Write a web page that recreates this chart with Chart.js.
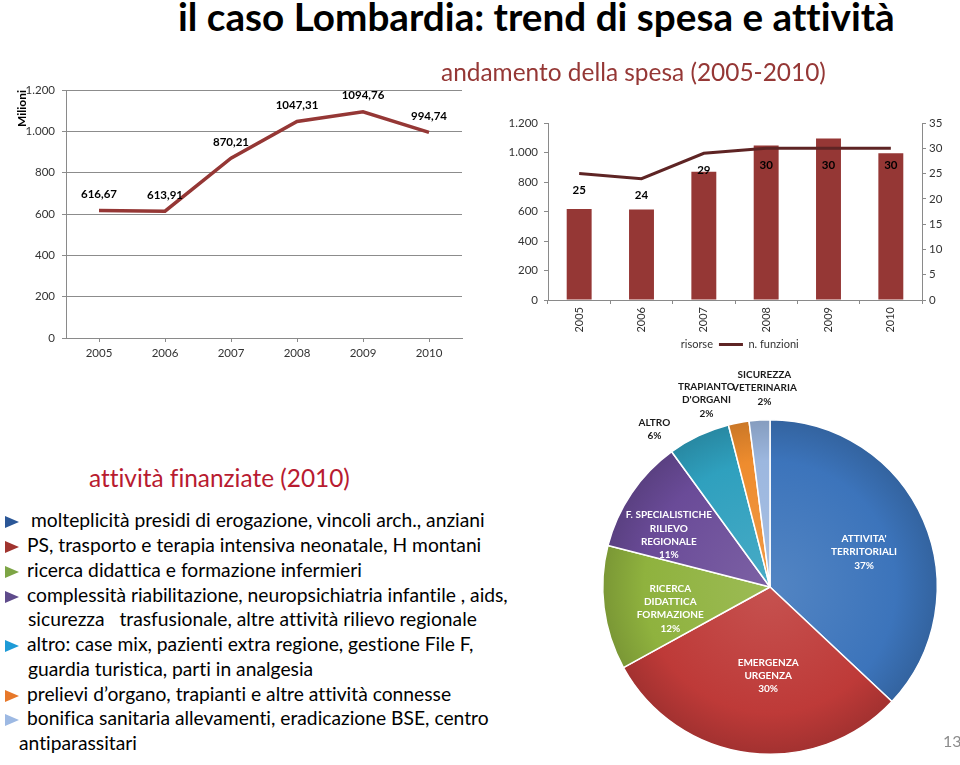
<!DOCTYPE html>
<html><head><meta charset="utf-8">
<script src="https://cdn.jsdelivr.net/npm/chart.js@4.4.0/dist/chart.umd.min.js"></script>
<style>
html,body{margin:0;padding:0;background:#fff;}
#page{position:relative;width:960px;height:765px;overflow:hidden;font-family:Lato,'Open Sans',sans-serif;font-variant-ligatures:none;font-feature-settings:"liga" 0,"clig" 0;}
canvas{position:absolute;}
.t{position:absolute;white-space:nowrap;line-height:1;}
.tri{position:absolute;width:0;height:0;border-top:6px solid transparent;border-bottom:6px solid transparent;border-left:14px solid #000;}
</style></head><body><div id="page">
<canvas id="c1" width="470" height="310" style="left:0;top:60px"></canvas>
<canvas id="c2" width="470" height="255" style="left:490px;top:105px"></canvas>
<canvas id="c3" width="360" height="400" style="left:590px;top:365px"></canvas>
<div class="t" id="title" style="left:178px;font-weight:700;font-size:34px;color:#000">il caso Lombardia: trend di spesa e attività</div>
<div class="t" id="sub1" style="left:441px;font-size:22px;color:#953735">andamento della spesa (2005-2010)</div>
<div class="t" id="sub2" style="left:89px;font-size:24px;color:#B81B30">attività finanziate (2010)</div>
<div class="t" id="pg" style="left:943px;font-size:16px;color:#8c8c8c">13</div>
</div>
<script>
// ---------- data ----------
const years = ['2005', '2006', '2007', '2008', '2009', '2010'];
const spesaMilioni = [616.67, 613.91, 870.21, 1047.31, 1094.76, 994.74];
const risorse = [616.67, 613.91, 870.21, 1047.31, 1094.76, 994.74];
const nFunzioni = [25, 24, 29, 30, 30, 30];
const pieLabels = [["ATTIVITA'", "TERRITORIALI"], ["EMERGENZA", "URGENZA"], ["RICERCA", "DIDATTICA", "FORMAZIONE"], ["F. SPECIALISTICHE", "RILIEVO", "REGIONALE"], ["ALTRO"], ["TRAPIANTO", "D'ORGANI"], ["SICUREZZA", "VETERINARIA"]];
const pieShares = [37, 30, 12, 11, 6, 2, 2];
// ---------- styles ----------
const pieColors = ['#3C74BB', '#BE3A38', '#8FB23E', '#6A4B98', '#2FA0BE', '#EE8C2E', '#9CB7DF'];
const pieLabelPlace = [{r:0.6,da:3},{r:0.53,da:-6},{r:0.61,da:-5},{r:0.68,da:-7},{r:1.17,da:-11},{r:1.18,da:-8},{r:1.19,da:2}];

const FONT = 'Lato';
const dot = v => String(v).replace(/\B(?=(\d{3})+(?!\d))/g, '.');
const comma = v => v.toFixed(2).replace('.', ',');

function fitW(el, target){
  const w = el.getBoundingClientRect().width;
  const fs = parseFloat(getComputedStyle(el).fontSize);
  const n = fs * target / w;
  el.style.fontSize = n + 'px';
  return n;
}
function placeY(el, yc){
  const fs = parseFloat(el.style.fontSize);
  el.style.top = (yc - 0.634 * fs) + 'px';
}
placeY(document.getElementById('pg'), 743);
fitW(document.getElementById('title'), 717); placeY(document.getElementById('title'), 21.5);
fitW(document.getElementById('sub1'), 385); placeY(document.getElementById('sub1'), 75);
fitW(document.getElementById('sub2'), 261); placeY(document.getElementById('sub2'), 481);

// bullets
const bulletLines = [
  {c:'#2B5797', x:31, y:522, t:'molteplicità presidi di erogazione, vincoli arch., anziani'},
  {c:'#A0342F', x:27, y:547, t:'PS, trasporto e terapia intensiva neonatale, H montani'},
  {c:'#7DA545', x:27, y:572, t:'ricerca didattica e formazione infermieri'},
  {c:'#5F4B8B', x:27, y:597, t:'complessità riabilitazione, neuropsichiatria infantile , aids,'},
  {c:null, x:28, y:621, t:'sicurezza \u00a0 trasfusionale, altre attività rilievo regionale'},
  {c:'#1E9BD7', x:27, y:646, t:'altro: case mix, pazienti extra regione, gestione File F,'},
  {c:null, x:28, y:671, t:'guardia turistica, parti in analgesia'},
  {c:'#E7782A', x:27, y:696, t:'prelievi d’organo, trapianti e altre attività connesse'},
  {c:'#9DB9E3', x:27, y:720, t:'bonifica sanitaria allevamenti, eradicazione BSE, centro'},
  {c:null, x:19, y:745, t:'antiparassitari'}
];
let bfs = 18;
bulletLines.forEach((b, i) => {
  const d = document.createElement('div');
  d.className = 't';
  d.style.left = b.x + 'px';
  d.style.fontSize = bfs + 'px';
  d.style.color = '#000';
  d.textContent = b.t;
  document.getElementById('page').appendChild(d);
  if (i === 0) { bfs = fitW(d, 454); }
  d.style.fontSize = bfs + 'px';
  placeY(d, b.y);
  if (b.c) {
    const tr = document.createElement('div');
    tr.className = 'tri';
    tr.style.borderLeftColor = b.c;
    tr.style.left = '5px';
    tr.style.top = (b.y - 6) + 'px';
    document.getElementById('page').appendChild(tr);
  }
});

// ---------- chart 1 ----------
const labels1 = {
  id: 'labels1',
  afterDatasetsDraw(chart){
    const ctx = chart.ctx;
    const meta = chart.getDatasetMeta(0);
    ctx.save();
    ctx.font = 'bold 11.5px ' + FONT;
    ctx.fillStyle = '#000';
    ctx.textAlign = 'center';
    ctx.textBaseline = 'middle';
    meta.data.forEach((p, i) => {
      ctx.fillText(comma(chart.data.datasets[0].data[i]), p.x, p.y - 16);
    });
    ctx.restore();
  }
};
new Chart(document.getElementById('c1'), {
  type: 'line',
  data: { labels: years, datasets: [{ data: spesaMilioni, borderColor: '#953735', borderWidth: 3.5, pointRadius: 0, tension: 0, fill: false }] },
  options: {
    responsive: false, animation: false,
    layout: { padding: { top: 30, right: 8, left: 0, bottom: 0 } },
    plugins: { legend: { display: false }, tooltip: { enabled: false } },
    scales: {
      x: {
        offset: true,
        grid: { drawOnChartArea: false, drawTicks: true, tickLength: 4, color: '#8a8a8a' },
        border: { color: '#8a8a8a' },
        ticks: { color: '#333', font: { family: FONT, size: 11.5 }, padding: 4, maxRotation: 0 },
        afterFit: s => { s.height = 32; }
      },
      y: {
        min: 0, max: 1200,
        ticks: { stepSize: 200, callback: v => dot(v), color: '#333', font: { family: FONT, size: 11.5 }, padding: 7 },
        grid: { color: '#8c8c8c', tickLength: 4 },
        border: { color: '#8a8a8a' },
        title: { display: true, text: 'Milioni', align: 'end', color: '#000', font: { family: FONT, size: 12, weight: 'bold' }, padding: { top: 15, bottom: 0 } },
        afterFit: s => { s.width = 66; }
      }
    }
  },
  plugins: [labels1]
});

// ---------- chart 2 ----------
const labels2 = {
  id: 'labels2',
  afterDatasetsDraw(chart){
    const ctx = chart.ctx;
    const meta = chart.getDatasetMeta(1);
    ctx.save();
    ctx.font = 'bold 11.5px ' + FONT;
    ctx.fillStyle = '#000';
    ctx.textAlign = 'center';
    ctx.textBaseline = 'middle';
    meta.data.forEach((p, i) => {
      ctx.fillText(String(chart.data.datasets[1].data[i]), p.x, p.y + 17);
    });
    ctx.restore();
  }
};
new Chart(document.getElementById('c2'), {
  type: 'bar',
  data: {
    labels: years,
    datasets: [
      { label: 'risorse', data: risorse, backgroundColor: '#953735', yAxisID: 'y', order: 2, categoryPercentage: 1, barPercentage: 0.4 },
      { label: 'n. funzioni', type: 'line', data: nFunzioni, borderColor: '#5E2424', borderWidth: 3, pointRadius: 0, tension: 0, yAxisID: 'y1', order: 1 }
    ]
  },
  options: {
    responsive: false, animation: false,
    layout: { padding: { top: 18, right: 0, left: 0, bottom: 0 } },
    plugins: {
      tooltip: { enabled: false },
      legend: {
        position: 'bottom',
        labels: {
          boxWidth: 24, boxHeight: 3, padding: 6, color: '#333', font: { family: FONT, size: 11 },
          generateLabels: () => [
            { text: 'risorse', fillStyle: 'rgba(0,0,0,0)', strokeStyle: 'rgba(0,0,0,0)', lineWidth: 0, datasetIndex: 0, fontColor: '#333' },
            { text: 'n. funzioni', fillStyle: '#5E2424', strokeStyle: '#5E2424', lineWidth: 0, datasetIndex: 1, fontColor: '#333' }
          ]
        }
      }
    },
    scales: {
      x: {
        grid: { drawOnChartArea: false, tickLength: 4, color: '#8a8a8a' },
        border: { color: '#8a8a8a' },
        ticks: { color: '#333', font: { family: FONT, size: 11 }, padding: 3, minRotation: 90, maxRotation: 90 },
        afterFit: s => { s.height = 33; }
      },
      y: {
        position: 'left', min: 0, max: 1200,
        ticks: { stepSize: 200, callback: v => dot(v), color: '#333', font: { family: FONT, size: 11.5 }, padding: 6 },
        grid: { drawOnChartArea: false, tickLength: 4, color: '#8a8a8a' },
        border: { color: '#8a8a8a' },
        afterFit: s => { s.width = 58; }
      },
      y1: {
        position: 'right', min: 0, max: 35,
        ticks: { stepSize: 5, color: '#333', font: { family: FONT, size: 11.5 }, padding: 3 },
        grid: { drawOnChartArea: false, tickLength: 4, color: '#8a8a8a' },
        border: { color: '#8a8a8a' },
        afterFit: s => { s.width = 38; }
      }
    }
  },
  plugins: [labels2]
});

// ---------- chart 3 ----------
function shade(hex, f){
  const n = parseInt(hex.slice(1), 16);
  let r = n >> 16, g = (n >> 8) & 255, b = n & 255;
  const t = f < 0 ? 0 : 255, p = Math.abs(f);
  r = Math.round(r + (t - r) * p); g = Math.round(g + (t - g) * p); b = Math.round(b + (t - b) * p);
  return 'rgb(' + r + ',' + g + ',' + b + ')';
}
function sliceFill(ctx){
  const base = pieColors[ctx.dataIndex];
  const ca = ctx.chart.chartArea;
  if (!ca) return base;
  const cx = (ca.left + ca.right) / 2, cy = (ca.top + ca.bottom) / 2;
  const R = Math.min(ca.width, ca.height) / 2;
  const g = ctx.chart.ctx.createRadialGradient(cx, cy, 0, cx, cy, R);
  g.addColorStop(0, shade(base, 0.12));
  g.addColorStop(0.75, base);
  g.addColorStop(1, shade(base, -0.15));
  return g;
}
const labels3 = {
  id: 'labels3',
  afterDatasetsDraw(chart){
    const ctx = chart.ctx;
    const meta = chart.getDatasetMeta(0);
    const data = chart.data.datasets[0].data;
    const total = data.reduce((a, b) => a + b, 0);
    ctx.save();
    ctx.font = 'bold 10px ' + FONT;
    ctx.textAlign = 'center';
    ctx.textBaseline = 'middle';
    meta.data.forEach((arc, i) => {
      const { x, y, startAngle, endAngle, outerRadius } = arc.getProps(['x', 'y', 'startAngle', 'endAngle', 'outerRadius'], true);
      const pl = pieLabelPlace[i];
      const mid = (startAngle + endAngle) / 2 + pl.da * Math.PI / 180;
      const px = x + Math.cos(mid) * outerRadius * pl.r;
      const py = y + Math.sin(mid) * outerRadius * pl.r;
      const lines = chart.data.labels[i].concat([Math.round(data[i] / total * 100) + '%']);
      ctx.fillStyle = pl.r > 1 ? '#1a1a1a' : '#fff';
      const lh = 13.3;
      lines.forEach((l, k) => ctx.fillText(l, px, py + (k - (lines.length - 1) / 2) * lh));
    });
    ctx.restore();
  }
};
new Chart(document.getElementById('c3'), {
  type: 'pie',
  data: { labels: pieLabels, datasets: [{ data: pieShares, backgroundColor: sliceFill, borderColor: '#fff', borderWidth: 1.5 }] },
  options: {
    responsive: false, animation: false,
    layout: { padding: { top: 54, left: 12, right: 12, bottom: 10 } },
    plugins: { legend: { display: false }, tooltip: { enabled: false } }
  },
  plugins: [labels3]
});
</script>
</body></html>
